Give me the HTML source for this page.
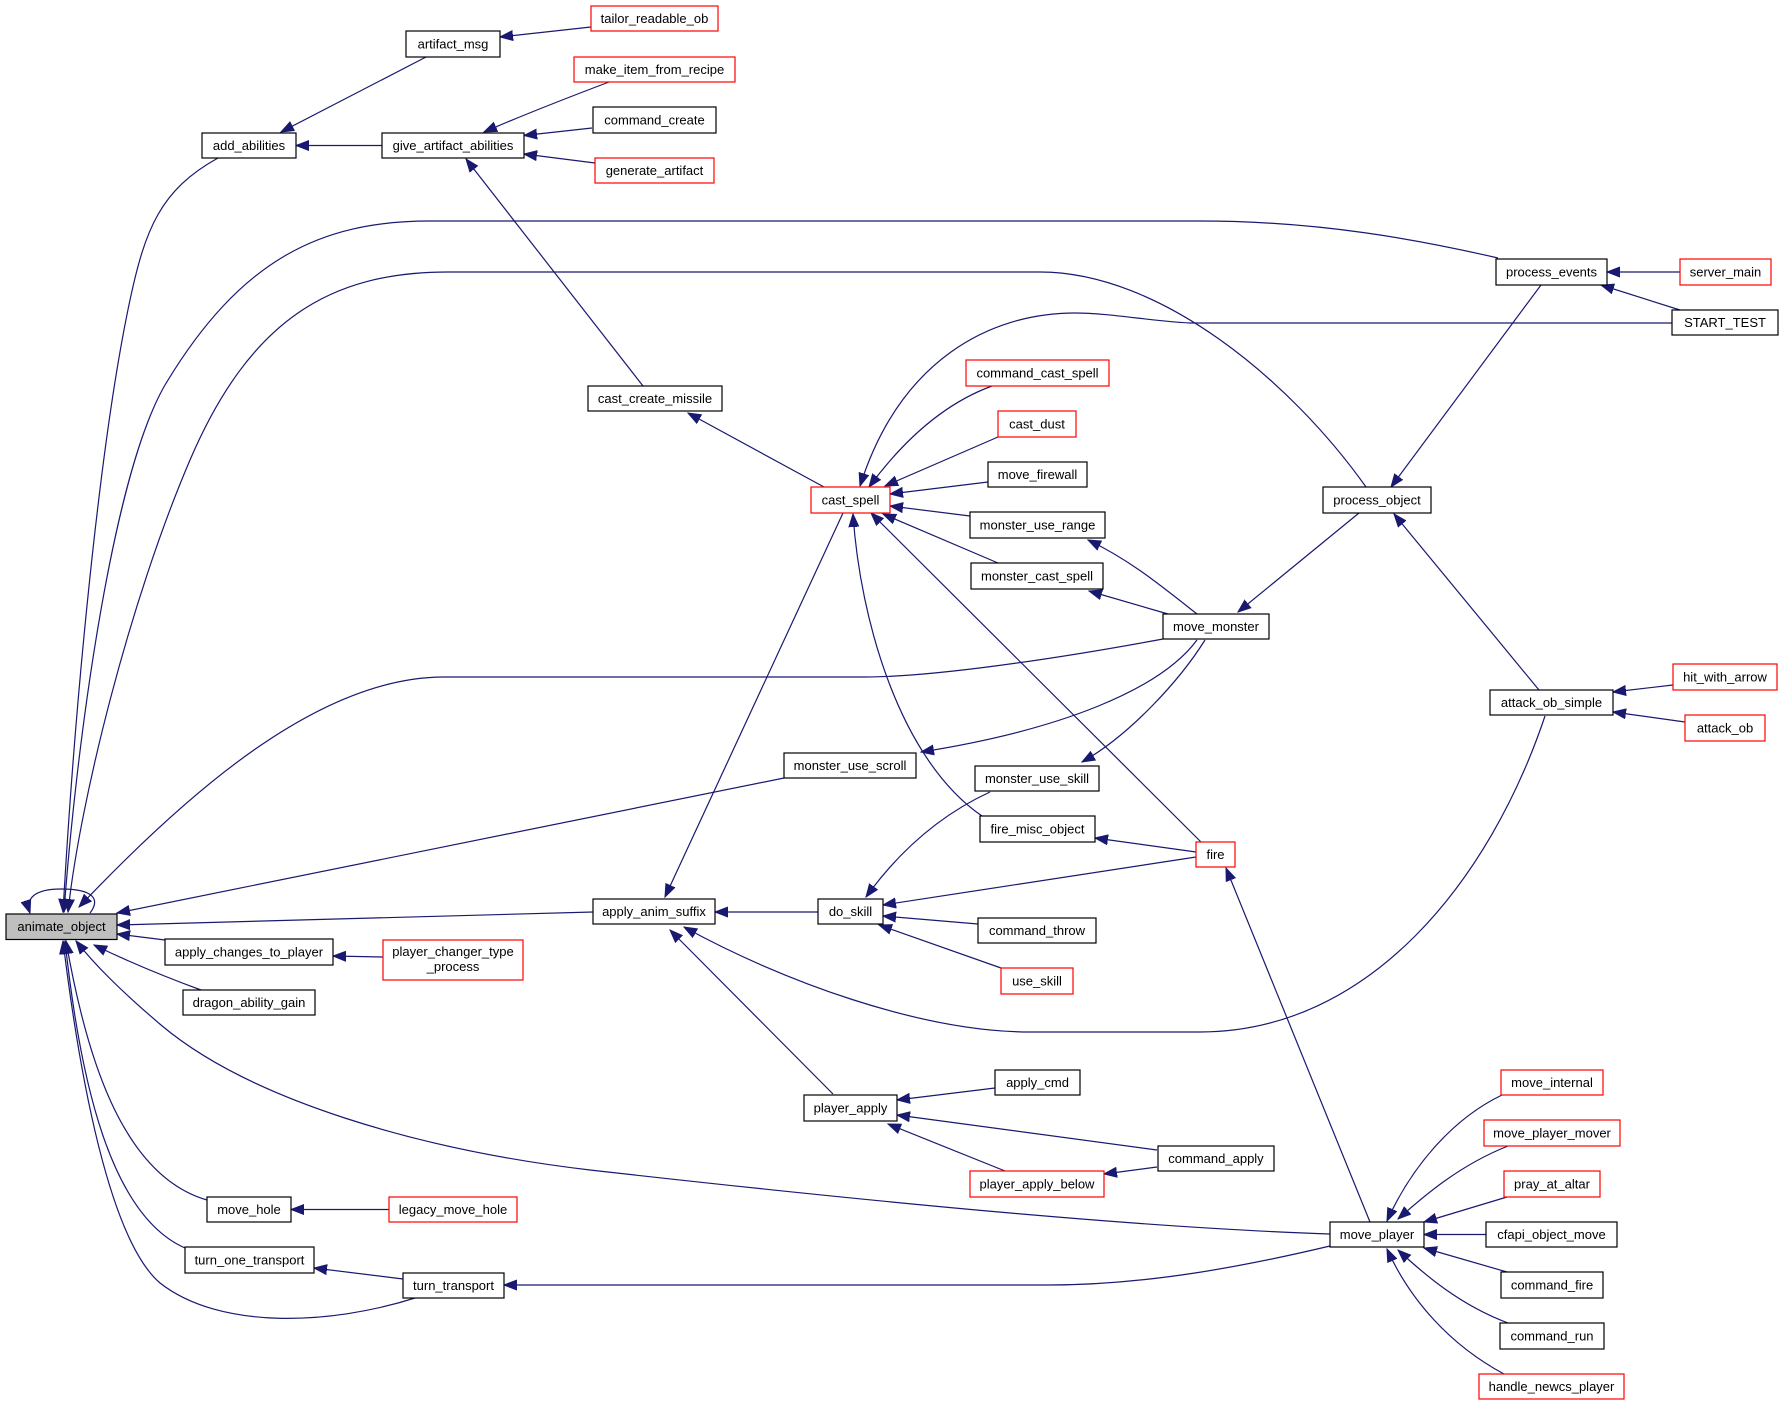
<!DOCTYPE html>
<html>
<head>
<meta charset="utf-8">
<style>
html,body{margin:0;padding:0;background:#fff;}
svg{display:block;}
text{font-family:"Liberation Sans",Arial,sans-serif;font-size:13px;fill:#000;text-anchor:middle;}
.n{fill:#fff;stroke:#000;stroke-width:1.2;}
.r{fill:#fff;stroke:#ff0000;stroke-width:1.2;}
.g{fill:#bfbfbf;stroke:#000;stroke-width:1.2;}
.e{fill:none;stroke:#191970;stroke-width:1.2;marker-end:url(#a);}
</style>
</head>
<body>
<svg width="1784" height="1405" viewBox="0 0 1784 1405" xmlns="http://www.w3.org/2000/svg">
<defs>
<marker id="a" markerWidth="14" markerHeight="12" refX="13" refY="5.5" orient="auto" markerUnits="userSpaceOnUse">
<path d="M0,0.5 L13,5.5 L0,10.5 z" fill="#191970" stroke="#191970" stroke-width="1"/>
</marker>
</defs>

<g>
<path class="e" d="M426,57 L281,132"/>
<path class="e" d="M382,145.5 L296,145.5"/>
<path class="e" d="M591,27 L500,37"/>
<path class="e" d="M609,82 C580,93 530,112 484,132"/>
<path class="e" d="M592,128 L524,135.5"/>
<path class="e" d="M595,163 L524,154"/>
<path class="e" d="M643,386 L466,159"/>

<path class="e" d="M1498,258 C1420,240 1320,221 1200,221 L430,221 C320,221 240,260 165,385 C110,480 75,760 64,912"/>
<path class="e" d="M1366,487 C1290,380 1160,272 1040,272 L448,272 C330,272 250,320 190,460 C130,600 80,800 68,912"/>
<path class="e" d="M218,158 C160,190 145,230 130,300 C100,440 75,700 63,912"/>
<path class="e" d="M1163,639 C1050,660 930,677 865,677 L444,677 C320,677 190,790 79,907"/>

<path class="e" d="M1672,323 L1190,323 C1150,321 1110,313 1075,313 C990,313 900,360 860,486"/>
<path class="e" d="M992,386 C940,405 900,445 869,487"/>
<path class="e" d="M998,437 L885,486"/>
<path class="e" d="M988,482 L890,494"/>
<path class="e" d="M970,516 L890,506"/>
<path class="e" d="M998,563 L883,514"/>
<path class="e" d="M1201,842 L871,513"/>
<path class="e" d="M982,816 C900,760 860,620 853,514"/>
<path class="e" d="M824,487 L688,413"/>
<path class="e" d="M843,513 L665,897"/>

<path class="e" d="M1197,614 C1160,585 1130,560 1088,540"/>
<path class="e" d="M1168,614 L1089,591"/>
<path class="e" d="M1197,640 C1160,690 1060,730 921,752"/>
<path class="e" d="M1205,640 C1180,680 1130,735 1082,762"/>

<path class="e" d="M784,778 L117,913"/>
<path class="e" d="M593,912 L117,925"/>
<path class="e" d="M818,912 L715,912"/>
<path class="e" d="M833,1094 L670,930"/>
<path class="e" d="M1545,716 C1490,880 1370,1032 1200,1032 L1030,1032 C920,1032 780,980 684,927"/>

<path class="e" d="M990,792 C940,815 900,850 866,897"/>
<path class="e" d="M1196,857 L883,905"/>
<path class="e" d="M1196,852 L1095,838"/>
<path class="e" d="M978,924 L883,916"/>
<path class="e" d="M1001,968 L879,925"/>
<path class="e" d="M1370,1222 L1226,868"/>

<path class="e" d="M1330,1234 C1150,1228 900,1205 590,1170 C420,1150 250,1100 161,1025 C120,990 95,965 76,941"/>
<path class="e" d="M201,990 C160,975 125,960 94,945"/>
<path class="e" d="M165,940 L117,934"/>
<path class="e" d="M207,1200 C120,1175 85,1050 66,941"/>
<path class="e" d="M185,1248 C110,1215 80,1080 65,941"/>
<path class="e" d="M415,1298 C330,1325 220,1330 160,1283 C110,1240 80,1080 63,941"/>

<path class="e" d="M995,1088 L897,1100"/>
<path class="e" d="M1157,1150 L897,1115"/>
<path class="e" d="M1005,1171 L888,1124"/>
<path class="e" d="M1157,1167 L1104,1174"/>
<path class="e" d="M389,1209.5 L291,1209.5"/>
<path class="e" d="M403,1279 L314,1268"/>
<path class="e" d="M1330,1246 C1250,1265 1150,1285 1049,1285 L504,1285"/>
<path class="e" d="M383,957 L333,956"/>

<path class="e" d="M1680,272 L1607,272"/>
<path class="e" d="M1680,310 L1601,285"/>
<path class="e" d="M1541,285 L1391,487"/>
<path class="e" d="M1359,513 L1238,612"/>
<path class="e" d="M1539,690 L1394,514"/>
<path class="e" d="M1673,685 L1613,692"/>
<path class="e" d="M1685,722 L1613,712"/>

<path class="e" d="M1502,1095 C1450,1120 1410,1170 1387,1221"/>
<path class="e" d="M1508,1146 C1460,1165 1425,1195 1398,1219"/>
<path class="e" d="M1507,1197 L1424,1222"/>
<path class="e" d="M1486,1234.5 L1424,1234.5"/>
<path class="e" d="M1507,1272 L1424,1248"/>
<path class="e" d="M1508,1323 C1460,1305 1425,1275 1398,1250"/>
<path class="e" d="M1504,1374 C1450,1345 1410,1300 1387,1249"/>

<path class="e" d="M90,913 C100,900 95,889 61,889 C35,889 25,898 30,913"/>
</g>

<g>
<rect class="g" x="6" y="914" width="111" height="25.5"/><text x="61.5" y="931">animate_object</text>
<rect class="n" x="202" y="133" width="94" height="25"/><text x="249" y="150">add_abilities</text>
<rect class="n" x="406" y="31" width="94" height="26"/><text x="453" y="48.5">artifact_msg</text>
<rect class="n" x="382" y="133" width="142" height="25"/><text x="453" y="150">give_artifact_abilities</text>
<rect class="r" x="591" y="6" width="127" height="25"/><text x="654.5" y="23">tailor_readable_ob</text>
<rect class="r" x="574" y="57" width="161" height="25"/><text x="654.5" y="74">make_item_from_recipe</text>
<rect class="n" x="593" y="107" width="123" height="26"/><text x="654.5" y="124.5">command_create</text>
<rect class="r" x="595" y="158" width="119" height="25"/><text x="654.5" y="175">generate_artifact</text>
<rect class="n" x="588" y="386" width="134" height="25"/><text x="655" y="403">cast_create_missile</text>
<rect class="n" x="1496" y="259" width="111" height="26"/><text x="1551.5" y="276.5">process_events</text>
<rect class="r" x="1680" y="259" width="91" height="26"/><text x="1725.5" y="276.5">server_main</text>
<rect class="n" x="1672" y="310" width="106" height="25"/><text x="1725" y="327">START_TEST</text>
<rect class="r" x="966" y="360" width="143" height="26"/><text x="1037.5" y="377.5">command_cast_spell</text>
<rect class="r" x="998" y="411" width="78" height="26"/><text x="1037" y="428.5">cast_dust</text>
<rect class="n" x="988" y="462" width="99" height="25"/><text x="1037.5" y="479">move_firewall</text>
<rect class="r" x="811" y="487" width="79" height="26"/><text x="850.5" y="504.5">cast_spell</text>
<rect class="n" x="970" y="512" width="135" height="26"/><text x="1037.5" y="529.5">monster_use_range</text>
<rect class="n" x="971" y="563" width="132" height="26"/><text x="1037" y="580.5">monster_cast_spell</text>
<rect class="n" x="1323" y="487" width="108" height="26"/><text x="1377" y="504.5">process_object</text>
<rect class="n" x="1163" y="614" width="106" height="25"/><text x="1216" y="631">move_monster</text>
<rect class="n" x="1490" y="690" width="123" height="25"/><text x="1551.5" y="707">attack_ob_simple</text>
<rect class="r" x="1673" y="664" width="104" height="26"/><text x="1725" y="681.5">hit_with_arrow</text>
<rect class="r" x="1685" y="715" width="80" height="26"/><text x="1725" y="732.5">attack_ob</text>
<rect class="n" x="784" y="753" width="132" height="25"/><text x="850" y="770">monster_use_scroll</text>
<rect class="n" x="975" y="766" width="124" height="25"/><text x="1037" y="783">monster_use_skill</text>
<rect class="n" x="980" y="816" width="115" height="26"/><text x="1037.5" y="833.5">fire_misc_object</text>
<rect class="r" x="1196" y="842" width="39" height="25"/><text x="1215.5" y="859">fire</text>
<rect class="n" x="593" y="899" width="122" height="25"/><text x="654" y="916">apply_anim_suffix</text>
<rect class="n" x="818" y="899" width="65" height="25"/><text x="850.5" y="916">do_skill</text>
<rect class="n" x="978" y="918" width="118" height="25"/><text x="1037" y="935">command_throw</text>
<rect class="r" x="1001" y="968" width="72" height="26"/><text x="1037" y="985.5">use_skill</text>
<rect class="n" x="165" y="939" width="168" height="26"/><text x="249" y="956.5">apply_changes_to_player</text>
<rect class="r" x="383" y="940" width="140" height="40"/><text x="453" y="956">player_changer_type</text><text x="453" y="971">_process</text>
<rect class="n" x="183" y="990" width="132" height="25"/><text x="249" y="1007">dragon_ability_gain</text>
<rect class="n" x="804" y="1095" width="93" height="26"/><text x="850.5" y="1112.5">player_apply</text>
<rect class="n" x="995" y="1070" width="85" height="25"/><text x="1037.5" y="1087">apply_cmd</text>
<rect class="n" x="1158" y="1146" width="116" height="25"/><text x="1216" y="1163">command_apply</text>
<rect class="r" x="970" y="1171" width="134" height="26"/><text x="1037" y="1188.5">player_apply_below</text>
<rect class="n" x="207" y="1197" width="84" height="25"/><text x="249" y="1214">move_hole</text>
<rect class="r" x="389" y="1197" width="128" height="25"/><text x="453" y="1214">legacy_move_hole</text>
<rect class="n" x="185" y="1247" width="129" height="26"/><text x="249.5" y="1264.5">turn_one_transport</text>
<rect class="n" x="403" y="1273" width="101" height="25"/><text x="453.5" y="1290">turn_transport</text>
<rect class="n" x="1330" y="1222" width="94" height="25"/><text x="1377" y="1239">move_player</text>
<rect class="r" x="1501" y="1070" width="102" height="25"/><text x="1552" y="1087">move_internal</text>
<rect class="r" x="1484" y="1120" width="136" height="26"/><text x="1552" y="1137.5">move_player_mover</text>
<rect class="r" x="1504" y="1171" width="96" height="26"/><text x="1552" y="1188.5">pray_at_altar</text>
<rect class="n" x="1486" y="1222" width="131" height="25"/><text x="1551.5" y="1239">cfapi_object_move</text>
<rect class="n" x="1501" y="1272" width="102" height="26"/><text x="1552" y="1289.5">command_fire</text>
<rect class="n" x="1500" y="1323" width="104" height="26"/><text x="1552" y="1340.5">command_run</text>
<rect class="r" x="1479" y="1374" width="145" height="25"/><text x="1551.5" y="1391">handle_newcs_player</text>
</g>
</svg>
</body>
</html>
